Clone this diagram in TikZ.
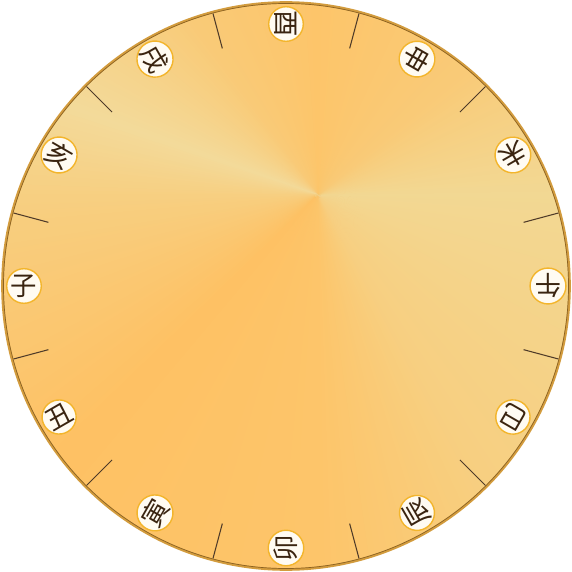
\documentclass[tikz,border=0pt]{standalone}
\usepackage{fontspec}
\newfontfamily\cjk{Noto Sans CJK SC}
\usetikzlibrary{calc}

\definecolor{dialPale}{HTML}{F3DA9A}
\definecolor{dialLight}{HTML}{F2D893}
\definecolor{dialMid}{HTML}{F7CF81}
\definecolor{dialWarm}{HTML}{F9CA77}
\definecolor{dialOrange}{HTML}{FDC56A}
\definecolor{dialDeep}{HTML}{FEC164}
\definecolor{rimGold}{HTML}{D39C3E}
\definecolor{rimDark}{HTML}{6E4A16}
\definecolor{ringYellow}{HTML}{F3B52C}
\definecolor{faceWhite}{HTML}{FFFBF2}
\definecolor{inkBrown}{HTML}{3A2410}

\begin{document}
\begin{tikzpicture}[
  x=0.02cm, y=0.02cm,
  rim/.style={draw=rimGold, line width=1.5pt},
  rimline/.style={draw=rimDark, line width=0.4pt, opacity=0.7},
  tickmark/.style={draw=inkBrown!90, line width=0.6pt},
  branch/.style={
    circle, draw=ringYellow, fill=faceWhite, line width=0.8pt,
    minimum size=0.68cm, inner sep=0pt,
    font=\cjk\fontsize{15}{15}\selectfont, text=inkBrown,
  },
]
\useasboundingbox (-286,-286) rectangle (286,286);

\coordinate (O) at (0,0);
\coordinate (C) at (32,91);

% conic face, built from thin wedges round C
\begin{scope}
  \clip (O) circle[radius=283];
  \fill[dialWarm] (O) circle[radius=290];
  \foreach \sa/\sb/\ca/\cb in {-180/-135/dialMid/dialDeep, -135/-90/dialDeep/dialOrange,
      -90/-60/dialOrange/dialMid, -60/0/dialMid/dialLight, 0/40/dialLight/dialWarm,
      40/90/dialWarm/dialOrange, 90/125/dialOrange/dialWarm, 125/160/dialWarm/dialPale,
      160/180/dialPale/dialMid}{
    \foreach \t [evaluate=\t as \p using {int(100*(\sb-\t)/(\sb-\sa))}] in {\sa,...,\sb}
      \fill[\ca!\p!\cb] ($(C)+(\t+180.6:3)$) -- ($(C)+(\t:400)$) -- ($(C)+(\t+1.6:400)$) -- cycle;
  }
\end{scope}

% rim
\draw[rim] (O) circle[radius=283.5];
\draw[rimline] (O) circle[radius=282.5];

% hour ticks
\foreach \k in {0,...,11}
  \draw[tickmark] (15+30*\k:246) -- (15+30*\k:282);

% earthly branches
\foreach \ch [count=\i from 0] in {子,丑,寅,卯,辰,巳,午,未,申,酉,戌,亥}
  \node[branch, rotate=30*\i] (b\i) at (180+30*\i:262) {\ch};

\end{tikzpicture}
\end{document}
